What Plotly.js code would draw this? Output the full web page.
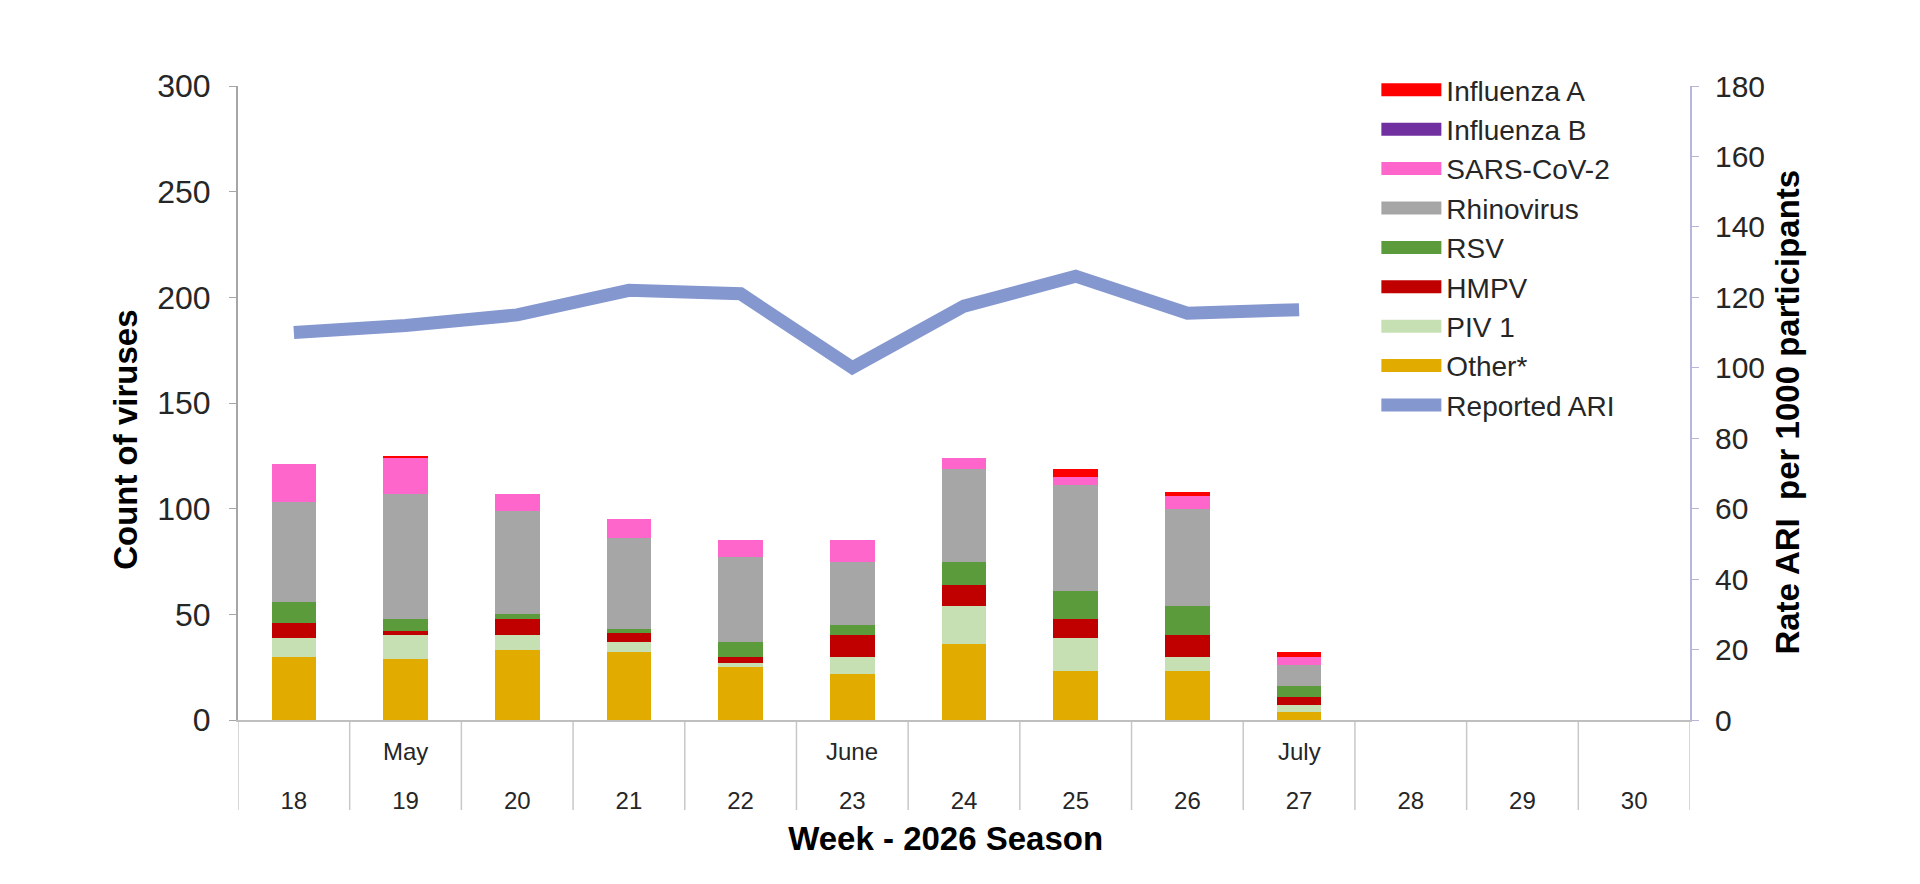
<!DOCTYPE html>
<html>
<head>
<meta charset="utf-8">
<script src="https://cdn.plot.ly/plotly-3.0.1.min.js"></script>
<style>
  html, body { margin: 0; padding: 0; background: #ffffff; }
  #chart { width: 1920px; height: 884px; }
</style>
</head>
<body>
<div id="chart"></div>
<script>
// ---- Data ----
const weeks  = ["18","19","20","21","22","23","24","25","26","27","28","29","30"];
const months = ["", "May", "", "", "", "June", "", "", "", "July", "", "", ""];

const otherVals = [30, 29, 33, 32, 25, 22, 36, 23, 23, 4, null, null, null];
const piv1Vals  = [ 9, 11,  7,  5,  2,  8, 18, 16,  7, 3, null, null, null];
const hmpvVals  = [ 7,  2,  8,  4,  3, 10, 10,  9, 10, 4, null, null, null];
const rsvVals   = [10,  6,  2,  2,  7,  5, 11, 13, 14, 5, null, null, null];
const rhinoVals = [47, 59, 49, 43, 40, 30, 44, 50, 46, 10, null, null, null];
const sarsVals  = [18, 17,  8,  9,  8, 10,  5,  4,  6, 4, null, null, null];
const fluBVals  = [ 0,  0,  0,  0,  0,  0,  0,  0,  0, 0, null, null, null];
const fluAVals  = [ 0,  1,  0,  0,  0,  0,  0,  4,  2, 2, null, null, null];

const ariVals   = [110, 112, 115, 122, 121, 100, 117.5, 126, 115.5, 116.5, null, null, null];

// stacking order bottom -> top
const seriesNames  = ["Other*", "PIV 1", "HMPV", "RSV", "Rhinovirus", "SARS-CoV-2", "Influenza B", "Influenza A"];
const seriesValues = [otherVals, piv1Vals, hmpvVals, rsvVals, rhinoVals, sarsVals, fluBVals, fluAVals];
const seriesColors = ["#e2ab00", "#c6e0b4", "#c00000", "#5b9b3b", "#a6a6a6", "#ff66cc", "#7030a0", "#ff0000"];
const ariColor = "#8497cf";

const FONT = "Liberation Sans, Arial, sans-serif";
const TXT = "#262626";
const NB = "\u00a0";

// ---- Traces ----
const traces = [];
seriesNames.forEach((name, i) => {
  traces.push({
    type: "bar", name: name, x: weeks, y: seriesValues[i],
    marker: { color: seriesColors[i], line: { width: 0 } },
    showlegend: false, legendgroup: name, hoverinfo: "x+y+name"
  });
});
// legend proxies (top -> bottom order as in the reference legend)
for (let i = seriesNames.length - 1; i >= 0; i--) {
  traces.push({
    type: "scatter", mode: "lines", name: seriesNames[i], x: [null], y: [null],
    line: { color: seriesColors[i], width: 10 }, legendgroup: seriesNames[i],
    showlegend: true, hoverinfo: "skip"
  });
}
traces.push({
  type: "scatter", mode: "lines", name: "Reported ARI", x: weeks, y: ariVals,
  yaxis: "y2", line: { color: ariColor, width: 13 }, connectgaps: false
});

// ---- Layout helpers ----
const shapes = [];
for (let i = 0; i <= weeks.length; i++) {
  shapes.push({
    type: "line", xref: "x", yref: "paper", x0: i - 0.5, x1: i - 0.5, y0: 0, y1: -0.142,
    line: { color: "#c8c8c8", width: 1.5 }, layer: "below"
  });
}
const annotations = [];
months.forEach((m, i) => {
  if (m) annotations.push({
    xref: "x", yref: "paper", x: i, y: -0.049, yanchor: "middle", showarrow: false,
    text: m, font: { family: FONT, size: 24, color: TXT }
  });
});

const layout = {
  width: 1920, height: 884,
  paper_bgcolor: "#ffffff", plot_bgcolor: "#ffffff",
  margin: { l: 238, r: 230, t: 86, b: 164 },
  barmode: "stack", bargap: 0.6,
  font: { family: FONT, color: TXT },
  showlegend: true,
  legend: {
    x: 0.784, xanchor: "left", y: 1.033, yanchor: "top",
    font: { family: FONT, size: 28, color: TXT },
    itemwidth: 60, tracegroupgap: 0, bgcolor: "rgba(0,0,0,0)", traceorder: "normal"
  },
  xaxis: {
    type: "category", categoryorder: "array", categoryarray: weeks, range: [-0.5, weeks.length - 0.5],
    showline: true, linecolor: "#bfbfbf", linewidth: 2, ticks: "", showgrid: false, zeroline: false,
    tickfont: { family: FONT, size: 24, color: TXT }, ticklabelstandoff: 58,
    title: { text: "<b>Week - 2026 Season" + NB.repeat(4) + "</b>", font: { family: FONT, size: 33, color: "#000" }, standoff: 14 }
  },
  yaxis: {
    range: [0, 300], dtick: 50, showline: true, linecolor: "#a6a6a6", linewidth: 2,
    ticks: "outside", ticklen: 7, tickcolor: "#a6a6a6", showgrid: false, zeroline: false,
    tickfont: { family: FONT, size: 32, color: TXT }, ticklabelstandoff: 12,
    title: { text: "<b>Count of viruses" + NB.repeat(8) + "</b>", font: { family: FONT, size: 33, color: "#000" }, standoff: 10 }
  },
  yaxis2: {
    overlaying: "y", side: "right", range: [0, 180], dtick: 20,
    showline: true, linecolor: "#b6b6dc", linewidth: 2,
    ticks: "outside", ticklen: 7, tickcolor: "#b6b6dc", showgrid: false, zeroline: false,
    tickfont: { family: FONT, size: 30, color: TXT }, ticklabelstandoff: 10,
    title: { text: "<b>Rate ARI  per 1000 participants" + NB.repeat(2) + "</b>", font: { family: FONT, size: 33, color: "#000" }, standoff: 12 }
  },
  shapes: shapes,
  annotations: annotations
};

Plotly.newPlot("chart", traces, layout, { displayModeBar: false, staticPlot: true }).then(gd => {
  // lengthen legend line swatches to match the reference
  gd.querySelectorAll(".legend .legendlines path").forEach(p => {
    p.setAttribute("d", "M5,0h60");
    p.style.strokeWidth = "13px";
  });
});
</script>
</body>
</html>
